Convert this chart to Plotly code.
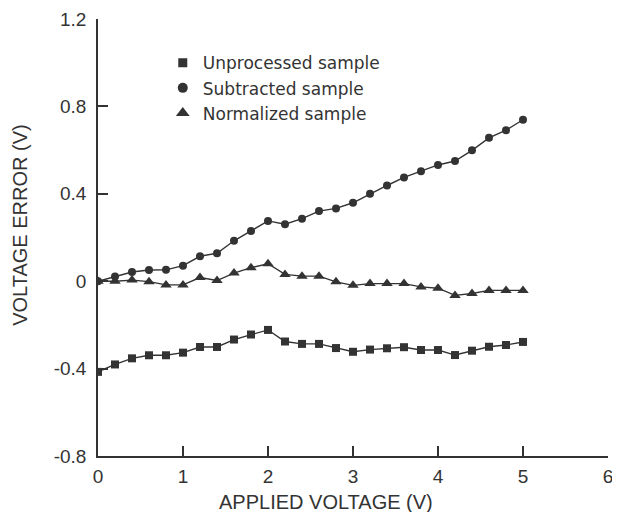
import plotly.graph_objects as go

applied_voltage = [0.0, 0.2, 0.4, 0.6, 0.8, 1.0, 1.2, 1.4, 1.6, 1.8, 2.0, 2.2, 2.4,
                   2.6, 2.8, 3.0, 3.2, 3.4, 3.6, 3.8, 4.0, 4.2, 4.4, 4.6, 4.8, 5.0]

unprocessed = [-0.415, -0.381, -0.353, -0.339, -0.339, -0.327, -0.301, -0.301, -0.267,
               -0.244, -0.223, -0.276, -0.287, -0.287, -0.306, -0.323, -0.313, -0.307,
               -0.302, -0.315, -0.315, -0.338, -0.318, -0.300, -0.292, -0.278]

subtracted = [0.0, 0.022, 0.042, 0.051, 0.052, 0.071, 0.114, 0.128, 0.185, 0.230,
              0.276, 0.261, 0.286, 0.321, 0.333, 0.359, 0.400, 0.438, 0.475, 0.503,
              0.532, 0.550, 0.599, 0.656, 0.691, 0.739]

normalized = [0.0, 0.0, 0.005, -0.002, -0.017, -0.017, 0.017, 0.003, 0.037, 0.062,
              0.080, 0.031, 0.023, 0.023, -0.003, -0.019, -0.011, -0.011, -0.011,
              -0.026, -0.032, -0.065, -0.056, -0.042, -0.042, -0.042]

series_names = ["Unprocessed sample", "Subtracted sample", "Normalized sample"]
series_values = [unprocessed, subtracted, normalized]
series_symbols = ["square", "circle", "triangle-up"]
series_sizes = [8, 8, 10]

x_ticks = [0, 1, 2, 3, 4, 5, 6]
y_ticks = [-0.8, -0.4, 0, 0.4, 0.8, 1.2]
y_tick_labels = ["-0.8", "-0.4", "0", "0.4", "0.8", "1.2"]

x_title = "APPLIED VOLTAGE (V)"
y_title = "VOLTAGE ERROR (V)"

ink = "#333333"
font_family = "Liberation Sans, Arial, sans-serif"
legend_family = "DejaVu Sans, sans-serif"

fig = go.Figure()

for name, vals, sym, sz in zip(series_names, series_values, series_symbols, series_sizes):
    fig.add_trace(go.Scatter(
        x=applied_voltage, y=vals, mode="lines+markers", name=name,
        line=dict(color=ink, width=1.4),
        marker=dict(symbol=sym, size=sz, color=ink),
        showlegend=False,
    ))

# legend entries (marker only, as in the reference)
for name, sym, sz in zip(series_names, series_symbols, [9, 10, 12]):
    fig.add_trace(go.Scatter(
        x=[None], y=[None], mode="markers", name=name,
        marker=dict(symbol=sym, size=sz, color=ink),
        showlegend=True,
    ))

# the page body has an 8px margin, so the figure is sized to fit the window
fig.update_layout(
    width=612, height=504,
    margin=dict(l=90, r=12, t=11, b=56),
    paper_bgcolor="white", plot_bgcolor="white",
    font=dict(family=font_family, color=ink),
    showlegend=True,
    legend=dict(
        x=0.127, y=0.94, xanchor="left", yanchor="top",
        bgcolor="rgba(0,0,0,0)", borderwidth=0,
        font=dict(size=17, color=ink, family=legend_family),
        itemwidth=30, tracegroupgap=0,
    ),
    annotations=[
        dict(text=x_title, xref="paper", yref="paper", x=0.447, y=-0.105,
             xanchor="center", yanchor="middle", showarrow=False,
             font=dict(size=20, color=ink, family=font_family)),
        dict(text=y_title, xref="paper", yref="paper", x=-0.153, y=0.529,
             xanchor="center", yanchor="middle", showarrow=False, textangle=-90,
             font=dict(size=20, color=ink, family=font_family)),
    ],
)

fig.update_xaxes(
    range=[0, 6], tickvals=x_ticks, ticktext=[str(t) for t in x_ticks],
    showgrid=False, zeroline=False, automargin=False,
    showline=True, linecolor=ink, linewidth=1.5,
    ticks="inside", ticklen=10, tickwidth=1.5, tickcolor=ink,
    tickfont=dict(size=19, color=ink),
    ticklabelstandoff=2, ticklabeloverflow="allow",
)

fig.update_yaxes(
    range=[-0.8, 1.2], tickvals=y_ticks, ticktext=y_tick_labels,
    showgrid=False, zeroline=False, automargin=False,
    showline=True, linecolor=ink, linewidth=1.5,
    ticks="inside", ticklen=10, tickwidth=1.5, tickcolor=ink,
    tickfont=dict(size=19, color=ink),
    ticklabelstandoff=6,
)

fig.write_html("out.html")
